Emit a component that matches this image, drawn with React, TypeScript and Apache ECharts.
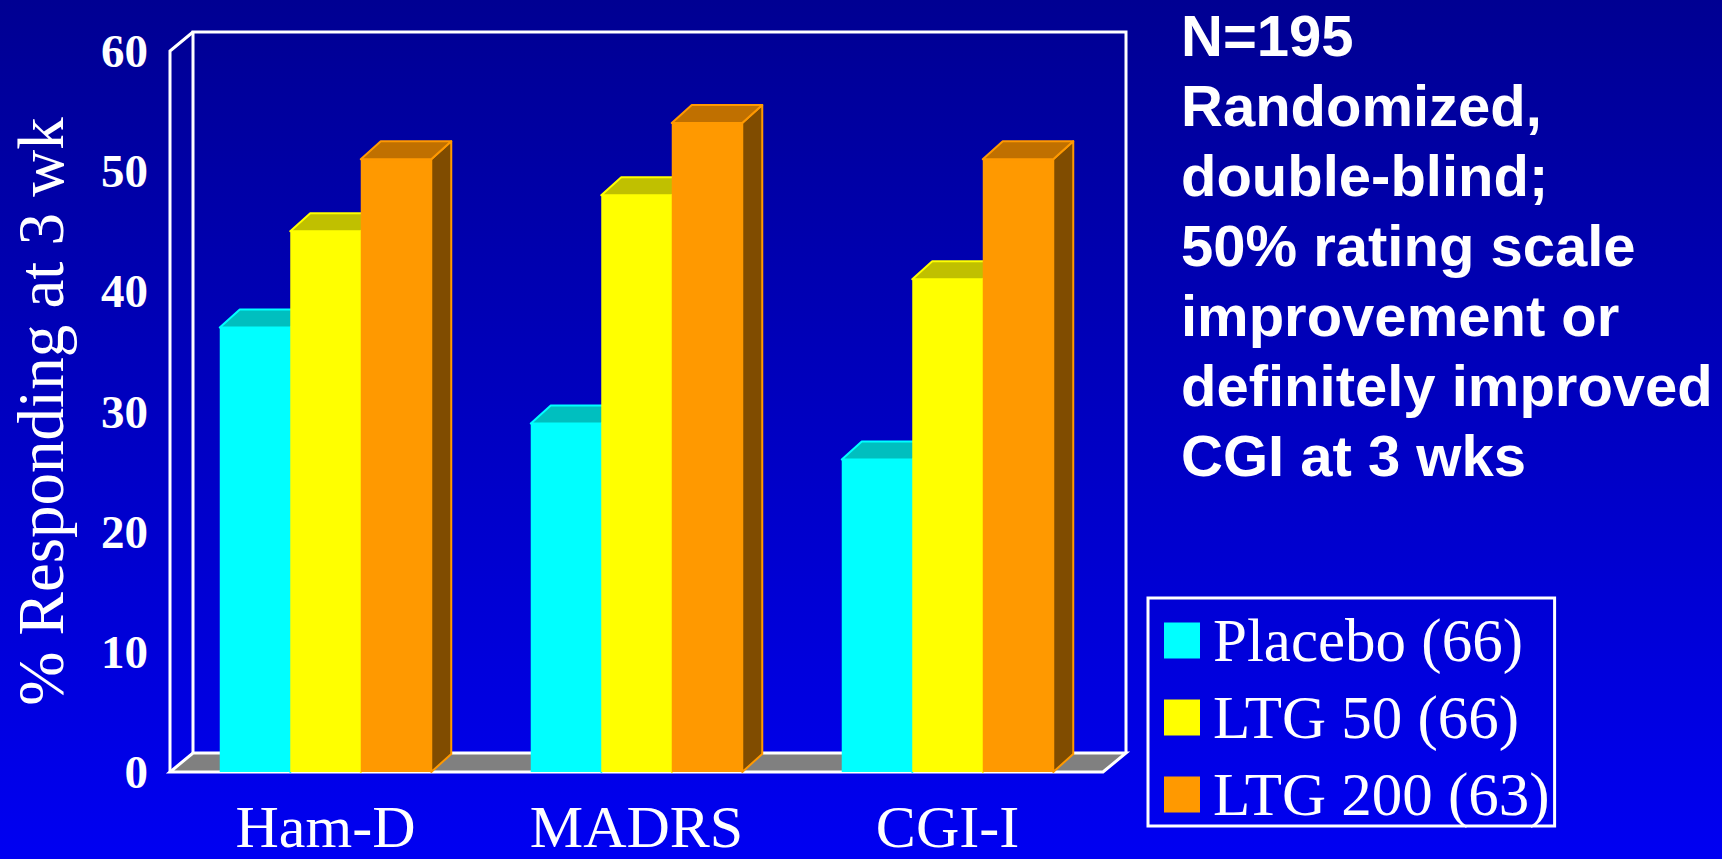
import React, { useEffect, useRef } from "react";
import * as echarts from "echarts";

// Outcome measures on the category axis
const categories = ["Ham-D", "MADRS", "CGI-I"];

// % responding at week 3, per treatment arm
const placeboValues = [37, 29, 26];
const ltg50Values = [45, 48, 41];
const ltg200Values = [51, 54, 51];

const seriesNames = ["Placebo (66)", "LTG 50 (66)", "LTG 200 (63)"];

// Value axis range
const yMin = 0;
const yMax = 60;
const yStep = 10;

const noteLines = [
  "N=195",
  "Randomized,",
  "double-blind;",
  "50% rating scale",
  "improvement or",
  "definitely improved",
  "CGI at 3 wks",
];

// Face colours for each arm: front, top, side
const palettes = [
  { front: "#00FFFF", top: "#00BFBF", side: "#008080" },
  { front: "#FFFF00", top: "#C0C000", side: "#808000" },
  { front: "#FF9900", top: "#C07000", side: "#804C00" },
];

const SERIF = "'Liberation Serif', 'Times New Roman', serif";
const SANS = "'Liberation Sans', Arial, sans-serif";

// Depth offsets for the pseudo-3D floor/walls and for the columns
const WALL_DX = 23;
const WALL_DY = -19;
const BAR_DX = 20;
const BAR_DY = -18;
const BAR_RATIO = 0.2267;

function makeBarSeries(name: string, values: number[], idx: number) {
  const pal = palettes[idx];
  return {
    type: "custom",
    name,
    z: 3,
    clip: false,
    itemStyle: { color: pal.front },
    encode: { x: 0, y: 1 },
    data: values.map((v, i) => [i, v]),
    renderItem: (params: any, api: any) => {
      const cat = api.value(0);
      const val = api.value(1);
      const base = api.coord([cat, 0]);
      const top = api.coord([cat, val]);
      const band = api.size([1, 0])[0];
      const bw = band * BAR_RATIO;
      const xl = base[0] - 1.5 * bw + idx * bw;
      const xr = xl + bw;
      const yt = top[1];
      const yb = base[1];
      return {
        type: "group",
        children: [
          {
            type: "rect",
            shape: { x: xl, y: yt, width: bw, height: yb - yt },
            style: { fill: pal.front },
          },
          {
            type: "polygon",
            shape: {
              points: [
                [xr, yb],
                [xr + BAR_DX, yb + BAR_DY],
                [xr + BAR_DX, yt + BAR_DY],
                [xr, yt],
              ],
            },
            style: { fill: pal.side, stroke: pal.front, lineWidth: 2, lineJoin: "round" },
          },
          {
            type: "polygon",
            shape: {
              points: [
                [xl, yt],
                [xl + BAR_DX, yt + BAR_DY],
                [xr + BAR_DX, yt + BAR_DY],
                [xr, yt],
              ],
            },
            style: { fill: pal.top, stroke: pal.front, lineWidth: 2, lineJoin: "round" },
          },
        ],
      };
    },
  };
}

// Floor, back wall and left edge of the plot box
const frameSeries = {
  type: "custom",
  name: "frame",
  z: 1,
  silent: true,
  clip: false,
  data: [[0, 0]],
  encode: { x: 0, y: 1 },
  renderItem: (params: any) => {
    const cs = params.coordSys;
    const x0 = cs.x;
    const y0 = cs.y;
    const x1 = cs.x + cs.width;
    const y1 = cs.y + cs.height;
    const line = { stroke: "#FFFFFF", lineWidth: 3, fill: "none" };
    return {
      type: "group",
      children: [
        {
          type: "polygon",
          shape: {
            points: [
              [x0, y1],
              [x1, y1],
              [x1 + WALL_DX, y1 + WALL_DY],
              [x0 + WALL_DX, y1 + WALL_DY],
            ],
          },
          style: { fill: "#808080", stroke: "#FFFFFF", lineWidth: 3 },
        },
        {
          type: "polyline",
          shape: {
            points: [
              [x0 + WALL_DX, y1 + WALL_DY],
              [x0 + WALL_DX, y0 + WALL_DY],
              [x1 + WALL_DX, y0 + WALL_DY],
              [x1 + WALL_DX, y1 + WALL_DY],
            ],
          },
          style: line,
        },
        {
          type: "polyline",
          shape: {
            points: [
              [x0, y1],
              [x0, y0],
              [x0 + WALL_DX, y0 + WALL_DY],
            ],
          },
          style: line,
        },
      ],
    };
  },
};

export default function App() {
  const ref = useRef<HTMLDivElement>(null);

  useEffect(() => {
    if (!ref.current) return;
    const chart = echarts.init(ref.current, null, { renderer: "svg" });
    chart.setOption({
      animation: false,
      backgroundColor: new echarts.graphic.LinearGradient(0, 0, 0, 1, [
        { offset: 0, color: "#000092" },
        { offset: 1, color: "#0000F2" },
      ]),
      title: {
        text: noteLines.join("\n"),
        left: 1181,
        top: 0,
        padding: 0,
        textStyle: {
          color: "#FFFFFF",
          fontFamily: SANS,
          fontWeight: "bold",
          fontSize: 58,
          lineHeight: 70,
        },
      },
      legend: {
        data: seriesNames,
        orient: "vertical",
        left: 1148,
        top: 598,
        padding: [12, 5, 1, 16],
        itemGap: 16,
        itemWidth: 36,
        itemHeight: 36,
        icon: "rect",
        borderColor: "#FFFFFF",
        borderWidth: 3,
        selectedMode: false,
        textStyle: {
          color: "#FFFFFF",
          fontFamily: SERIF,
          fontSize: 61,
          lineHeight: 58,
          padding: [0, 0, 0, 8],
        },
      },
      grid: {
        left: 170,
        top: 51,
        width: 933,
        height: 721,
      },
      xAxis: {
        type: "category",
        data: categories,
        axisLine: { show: false },
        axisTick: { show: false },
        splitLine: { show: false },
        axisLabel: {
          color: "#FFFFFF",
          fontFamily: SERIF,
          fontSize: 60,
          lineHeight: 48,
          margin: 31,
        },
      },
      yAxis: {
        type: "value",
        min: yMin,
        max: yMax,
        interval: yStep,
        name: "% Responding at 3 wk",
        nameLocation: "middle",
        nameRotate: 90,
        nameGap: 97,
        nameTextStyle: {
          color: "#FFFFFF",
          fontFamily: SERIF,
          fontSize: 65,
          lineHeight: 65,
        },
        axisLine: { show: false },
        axisTick: { show: false },
        splitLine: { show: false },
        axisLabel: {
          color: "#FFFFFF",
          fontFamily: SERIF,
          fontWeight: "bold",
          fontSize: 47,
          margin: 22,
        },
      },
      series: [
        frameSeries,
        makeBarSeries(seriesNames[0], placeboValues, 0),
        makeBarSeries(seriesNames[1], ltg50Values, 1),
        makeBarSeries(seriesNames[2], ltg200Values, 2),
      ],
    });
    return () => chart.dispose();
  }, []);

  return (
    <div
      ref={ref}
      style={{ position: "fixed", left: 0, top: 0, width: 1722, height: 859 }}
    />
  );
}
